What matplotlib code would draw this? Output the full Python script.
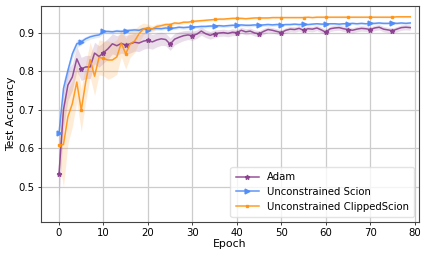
import matplotlib
matplotlib.use("Agg")
import matplotlib.pyplot as plt
import numpy as np

epochs = list(range(80))

adam_mean = [0.534, 0.700, 0.764, 0.785, 0.832, 0.806, 0.811, 0.811, 0.847, 0.838,
             0.848, 0.858, 0.871, 0.866, 0.872, 0.868, 0.871, 0.875, 0.873, 0.878,
             0.880, 0.876, 0.881, 0.884, 0.882, 0.870, 0.883, 0.888, 0.892, 0.894,
             0.892, 0.896, 0.904, 0.897, 0.893, 0.897, 0.899, 0.900, 0.898, 0.901,
             0.900, 0.906, 0.902, 0.904, 0.899, 0.897, 0.903, 0.908, 0.906, 0.903,
             0.900, 0.906, 0.909, 0.908, 0.911, 0.906, 0.910, 0.909, 0.912, 0.907,
             0.901, 0.910, 0.912, 0.913, 0.910, 0.908, 0.906, 0.909, 0.911, 0.910,
             0.908, 0.912, 0.914, 0.909, 0.907, 0.905, 0.909, 0.913, 0.914, 0.913]
adam_std = [0.065, 0.050, 0.040, 0.035, 0.032, 0.030, 0.030, 0.030, 0.028, 0.028,
            0.027, 0.027, 0.026, 0.026, 0.025, 0.025, 0.024, 0.023, 0.022, 0.021,
            0.020, 0.019, 0.018, 0.017, 0.016, 0.016, 0.015, 0.014, 0.013, 0.012,
            0.012, 0.011, 0.011, 0.010, 0.010, 0.010, 0.009, 0.009, 0.009, 0.009,
            0.008, 0.008, 0.008, 0.008, 0.008, 0.008, 0.008, 0.007, 0.007, 0.007,
            0.007, 0.007, 0.007, 0.007, 0.007, 0.007, 0.007, 0.007, 0.007, 0.007,
            0.007, 0.007, 0.007, 0.007, 0.007, 0.007, 0.007, 0.007, 0.007, 0.007,
            0.007, 0.007, 0.007, 0.007, 0.007, 0.007, 0.007, 0.007, 0.007, 0.007]

scion_mean = [0.639, 0.755, 0.802, 0.845, 0.871, 0.876, 0.884, 0.889, 0.892, 0.894,
              0.903, 0.903, 0.902, 0.904, 0.903, 0.905, 0.906, 0.907, 0.906, 0.910,
              0.908, 0.910, 0.911, 0.910, 0.912, 0.911, 0.912, 0.914, 0.913, 0.914,
              0.915, 0.915, 0.916, 0.916, 0.917, 0.917, 0.918, 0.917, 0.918, 0.919,
              0.919, 0.920, 0.919, 0.919, 0.920, 0.919, 0.920, 0.921, 0.920, 0.921,
              0.920, 0.921, 0.921, 0.922, 0.921, 0.922, 0.921, 0.922, 0.923, 0.922,
              0.922, 0.923, 0.923, 0.922, 0.923, 0.923, 0.924, 0.923, 0.924, 0.923,
              0.924, 0.924, 0.925, 0.924, 0.924, 0.925, 0.924, 0.925, 0.924, 0.925]
scion_std = [0.010, 0.020, 0.015, 0.012, 0.010, 0.008, 0.006, 0.006, 0.006, 0.006,
             0.005, 0.005, 0.005, 0.005, 0.005, 0.005, 0.005, 0.005, 0.005, 0.005,
             0.004, 0.004, 0.004, 0.004, 0.004, 0.004, 0.004, 0.004, 0.004, 0.004,
             0.004, 0.004, 0.004, 0.004, 0.004, 0.004, 0.004, 0.004, 0.004, 0.004,
             0.004, 0.004, 0.004, 0.004, 0.004, 0.004, 0.004, 0.004, 0.004, 0.004,
             0.003, 0.003, 0.003, 0.003, 0.003, 0.003, 0.003, 0.003, 0.003, 0.003,
             0.003, 0.003, 0.003, 0.003, 0.003, 0.003, 0.003, 0.003, 0.003, 0.003,
             0.003, 0.003, 0.003, 0.003, 0.003, 0.003, 0.003, 0.003, 0.003, 0.003]

clip_mean = [0.608, 0.610, 0.682, 0.716, 0.772, 0.699, 0.772, 0.830, 0.787, 0.836,
             0.833, 0.829, 0.829, 0.837, 0.873, 0.845, 0.871, 0.878, 0.897, 0.910,
             0.912, 0.910, 0.916, 0.918, 0.921, 0.921, 0.925, 0.924, 0.927, 0.927,
             0.929, 0.930, 0.931, 0.932, 0.933, 0.934, 0.935, 0.935, 0.936, 0.937,
             0.937, 0.937, 0.936, 0.937, 0.938, 0.938, 0.938, 0.938, 0.939, 0.939,
             0.939, 0.939, 0.939, 0.939, 0.939, 0.939, 0.940, 0.939, 0.940, 0.940,
             0.940, 0.940, 0.940, 0.940, 0.940, 0.940, 0.940, 0.940, 0.940, 0.940,
             0.940, 0.940, 0.940, 0.940, 0.940, 0.940, 0.941, 0.941, 0.941, 0.941]
clip_std = [0.040, 0.110, 0.070, 0.060, 0.050, 0.055, 0.050, 0.045, 0.050, 0.045,
            0.045, 0.050, 0.045, 0.045, 0.035, 0.040, 0.035, 0.030, 0.022, 0.015,
            0.010, 0.008, 0.007, 0.006, 0.005, 0.005, 0.004, 0.004, 0.004, 0.003,
            0.003, 0.003, 0.003, 0.003, 0.003, 0.003, 0.003, 0.003, 0.003, 0.003,
            0.003, 0.003, 0.003, 0.003, 0.003, 0.003, 0.003, 0.003, 0.003, 0.003,
            0.002, 0.002, 0.002, 0.002, 0.002, 0.002, 0.002, 0.002, 0.002, 0.002,
            0.002, 0.002, 0.002, 0.002, 0.002, 0.002, 0.002, 0.002, 0.002, 0.002,
            0.002, 0.002, 0.002, 0.002, 0.002, 0.002, 0.002, 0.002, 0.002, 0.002]

labels = ["Adam", "Unconstrained Scion", "Unconstrained ClippedScion"]
colors = ["#8a3f8e", "#4f8bf7", "#ff9312"]
markers = ["*", ">", "s"]
msizes = [3.5, 3.5, 2.0]

fig = plt.figure(figsize=(4.29, 2.57), dpi=100)
ax = fig.add_axes([0.0956, 0.1374, 0.8814, 0.8393])

series = [(adam_mean, adam_std), (scion_mean, scion_std), (clip_mean, clip_std)]
for (m, s), lab, c, mk, ms in zip(series, labels, colors, markers, msizes):
    m = np.array(m); s = np.array(s)
    ax.fill_between(epochs, m - s, m + s, color=c, alpha=0.17, linewidth=0)
    ax.plot(epochs, m, color=c, marker=mk, markevery=5, markersize=ms,
            linewidth=1.1, alpha=0.9, label=lab)

ax.set_xlim(-4.05, 81.0)
ax.set_ylim(0.41, 0.969)
ax.set_xticks([0, 10, 20, 30, 40, 50, 60, 70, 80])
ax.set_yticks([0.5, 0.6, 0.7, 0.8, 0.9])
ax.grid(True, color="#cccccc", linewidth=0.9)
ax.set_axisbelow(True)
for sp in ax.spines.values():
    sp.set_color("#444444")
    sp.set_linewidth(0.8)
ax.tick_params(labelsize=7.3, length=2.5, width=0.6, pad=2, colors="#222222", labelcolor="black")
ax.set_xlabel("Epoch", fontsize=7.8, labelpad=1)
ax.set_ylabel("Test Accuracy", fontsize=7.8, labelpad=2)
leg = ax.legend(loc="lower right", fontsize=7.3, handlelength=2.3, borderpad=0.5,
                labelspacing=0.45, framealpha=0.8, edgecolor="#dddddd")

fig.savefig("out.png", dpi=100)
